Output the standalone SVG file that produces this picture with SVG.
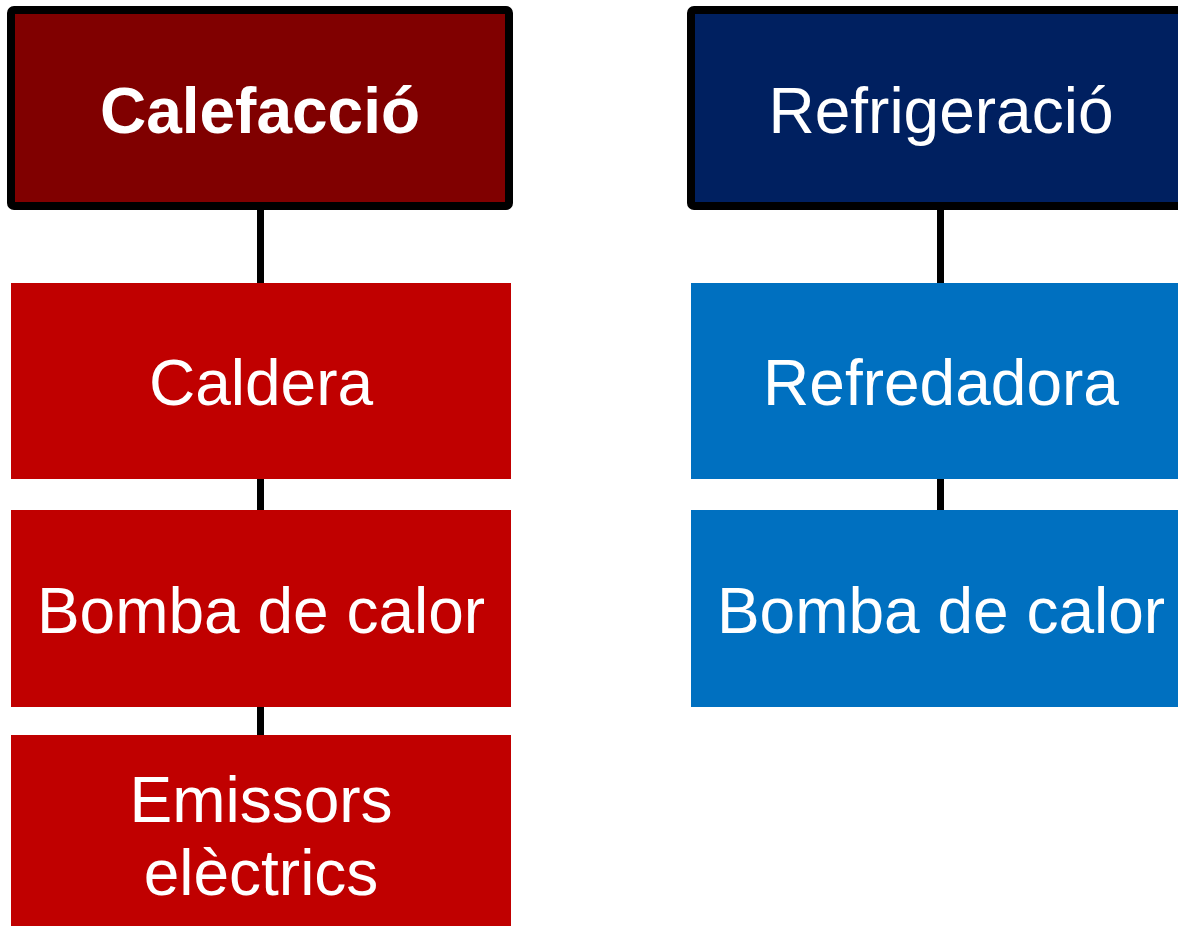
<svg xmlns="http://www.w3.org/2000/svg" width="1178" height="926" viewBox="0 0 1178 926">
<style>
text{font-family:"Liberation Sans",Arial,sans-serif;font-size:64px;fill:#fff;text-anchor:middle}
.hdr{stroke:#000;stroke-width:8}
.conn{stroke:#000;stroke-width:7;fill:none}
</style>
<rect width="1178" height="926" fill="#fff"/>
<g id="connectors">
<line class="conn" x1="260.5" y1="206" x2="260.5" y2="283"/>
<line class="conn" x1="260.5" y1="478" x2="260.5" y2="511"/>
<line class="conn" x1="260.5" y1="706" x2="260.5" y2="736"/>
<line class="conn" x1="940.5" y1="206" x2="940.5" y2="283"/>
<line class="conn" x1="940.5" y1="478" x2="940.5" y2="511"/>
</g>
<g id="calefaccio">
<rect class="hdr" x="11" y="10" width="498" height="196" rx="3" fill="#800000"/>
<text x="260" y="133" font-weight="bold">Calefacció</text>
</g>
<g id="refrigeracio">
<rect class="hdr" x="691" y="10" width="498" height="196" rx="3" fill="#002060"/>
<text x="941" y="133">Refrigeració</text>
</g>
<g id="caldera">
<rect x="11" y="283" width="500" height="196" fill="#C00000"/>
<text x="261" y="405">Caldera</text>
</g>
<g id="bomba-calor-1">
<rect x="11" y="510" width="500" height="197" fill="#C00000"/>
<text x="261" y="633">Bomba de calor</text>
</g>
<g id="emissors">
<rect x="11" y="735" width="500" height="191" fill="#C00000"/>
<text x="261" y="822">Emissors</text>
<text x="261" y="895">elèctrics</text>
</g>
<g id="refredadora">
<rect x="691" y="283" width="487" height="196" fill="#0070C0"/>
<text x="941" y="405">Refredadora</text>
</g>
<g id="bomba-calor-2">
<rect x="691" y="510" width="487" height="197" fill="#0070C0"/>
<text x="941" y="633">Bomba de calor</text>
</g>
</svg>
